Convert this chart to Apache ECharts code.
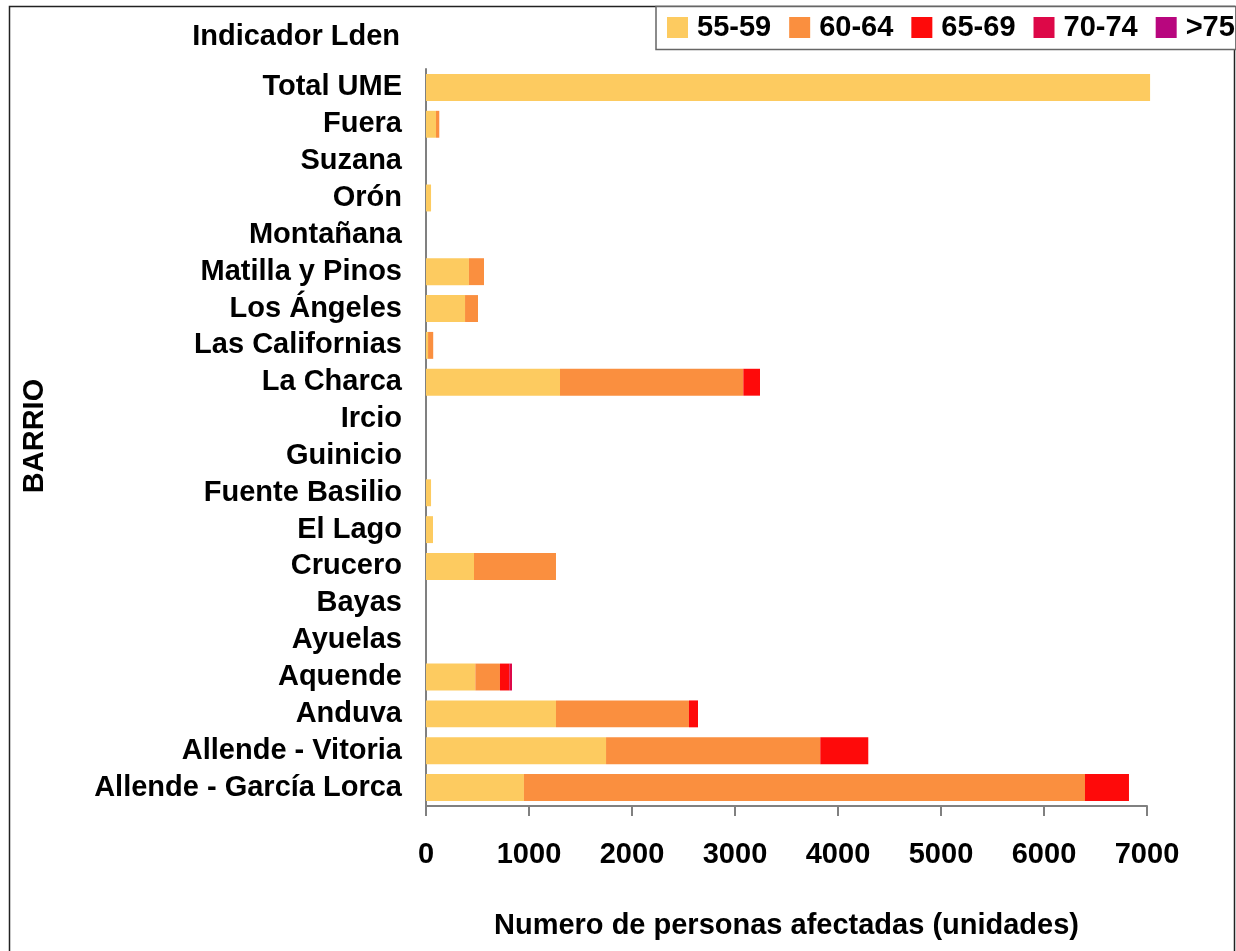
<!DOCTYPE html>
<html>
<head>
<meta charset="utf-8">
<title>Indicador Lden por barrio</title>
<script src="https://cdn.jsdelivr.net/npm/echarts@6/dist/echarts.min.js"></script>
<style>
  html, body { margin: 0; padding: 0; background: #ffffff; }
  #chart { width: 1236px; height: 951px; }
</style>
</head>
<body>
<div id="chart"></div>
<script>
// Barrios, listed from the bottom of the axis upward
const barrios = [
  'Allende - García Lorca', 'Allende - Vitoria', 'Anduva', 'Aquende', 'Ayuelas',
  'Bayas', 'Crucero', 'El Lago', 'Fuente Basilio', 'Guinicio', 'Ircio',
  'La Charca', 'Las Californias', 'Los Ángeles', 'Matilla y Pinos',
  'Montañana', 'Orón', 'Suzana', 'Fuera', 'Total UME'
];

// Personas afectadas por rango de Lden (dB), same order as barrios
const lden55_59 = [951, 1748, 1262, 479, 0, 0, 466, 68, 49, 0, 0, 1301, 20, 379, 417, 0, 49, 0, 97, 7030];
const lden60_64 = [5447, 2080, 1291, 239, 0, 0, 796, 0, 0, 0, 0, 1780, 50, 126, 146, 0, 0, 0, 32, 0];
const lden65_69 = [427, 466, 88, 91, 0, 0, 0, 0, 0, 0, 0, 162, 0, 0, 0, 0, 0, 0, 0, 0];
const lden70_74 = [0, 0, 0, 26, 0, 0, 0, 0, 0, 0, 0, 0, 0, 0, 0, 0, 0, 0, 0, 0];
const lden75 = [0, 0, 0, 0, 0, 0, 0, 0, 0, 0, 0, 0, 0, 0, 0, 0, 0, 0, 0, 0];

const rangos = ['55-59', '60-64', '65-69', '70-74', '>75'];
const valores = [lden55_59, lden60_64, lden65_69, lden70_74, lden75];
const colores = ['#FDCB60', '#FA8F3F', '#FE0A0A', '#DD0848', '#B8067E'];

const xTicks = { min: 0, max: 7000, interval: 1000 };

const FONT = '"Liberation Sans", Arial, sans-serif';

const chart = echarts.init(document.getElementById('chart'), null, { renderer: 'canvas' });

chart.setOption({
  backgroundColor: '#ffffff',
  animation: false,
  textStyle: { fontFamily: FONT },
  graphic: [
    {
      type: 'rect',
      shape: { x: 9.5, y: 6.5, width: 1225, height: 1000 },
      style: { fill: 'none', stroke: '#222222', lineWidth: 1.5 },
      z: 0
    },
    {
      type: 'text',
      x: 400, y: 37,
      style: {
        text: 'Indicador Lden', fill: '#000', align: 'right', verticalAlign: 'middle',
        font: 'bold 29px ' + FONT
      }
    },
    {
      type: 'text',
      x: 35, y: 436, rotation: Math.PI / 2,
      style: {
        text: 'BARRIO', fill: '#000', align: 'center', verticalAlign: 'middle',
        font: 'bold 29px ' + FONT
      }
    }
  ],
  legend: {
    data: rangos,
    left: 656,
    top: 6.5,
    orient: 'horizontal',
    padding: [6, 1, 7, 11],
    itemWidth: 21,
    itemHeight: 21,
    itemGap: 18,
    borderColor: '#666666',
    borderWidth: 1.5,
    backgroundColor: '#ffffff',
    icon: 'rect',
    textStyle: {
      fontSize: 29, fontWeight: 'bold', color: '#000',
      fontFamily: FONT, padding: [0, 0, 0, 4], lineHeight: 30
    }
  },
  grid: {
    left: 426,
    right: 89,
    top: 69,
    bottom: 145,
    containLabel: false
  },
  xAxis: {
    type: 'value',
    min: xTicks.min,
    max: xTicks.max,
    interval: xTicks.interval,
    name: 'Numero de personas afectadas (unidades)',
    nameLocation: 'middle',
    nameGap: 105,
    nameTextStyle: { fontSize: 29, fontWeight: 'bold', color: '#000', fontFamily: FONT },
    axisLine: { show: true, lineStyle: { color: '#808080', width: 2 } },
    axisTick: { show: true, length: 10, lineStyle: { color: '#808080', width: 2 } },
    axisLabel: {
      fontSize: 29, fontWeight: 'bold', color: '#000', margin: 34, fontFamily: FONT,
      formatter: v => String(v)
    },
    splitLine: { show: false }
  },
  yAxis: {
    type: 'category',
    data: barrios,
    axisLine: { show: true, lineStyle: { color: '#808080', width: 2 } },
    axisTick: { show: false },
    axisLabel: {
      interval: 0, fontSize: 29, fontWeight: 'bold', color: '#000', margin: 24, fontFamily: FONT,
      padding: [4, 0, 0, 0]
    },
    splitLine: { show: false }
  },
  series: rangos.map((r, i) => ({
    name: r,
    type: 'bar',
    stack: 'total',
    data: valores[i],
    clip: false,
    barCategoryGap: '27%',
    itemStyle: { color: colores[i] },
    emphasis: { disabled: true }
  }))
});
</script>
</body>
</html>
